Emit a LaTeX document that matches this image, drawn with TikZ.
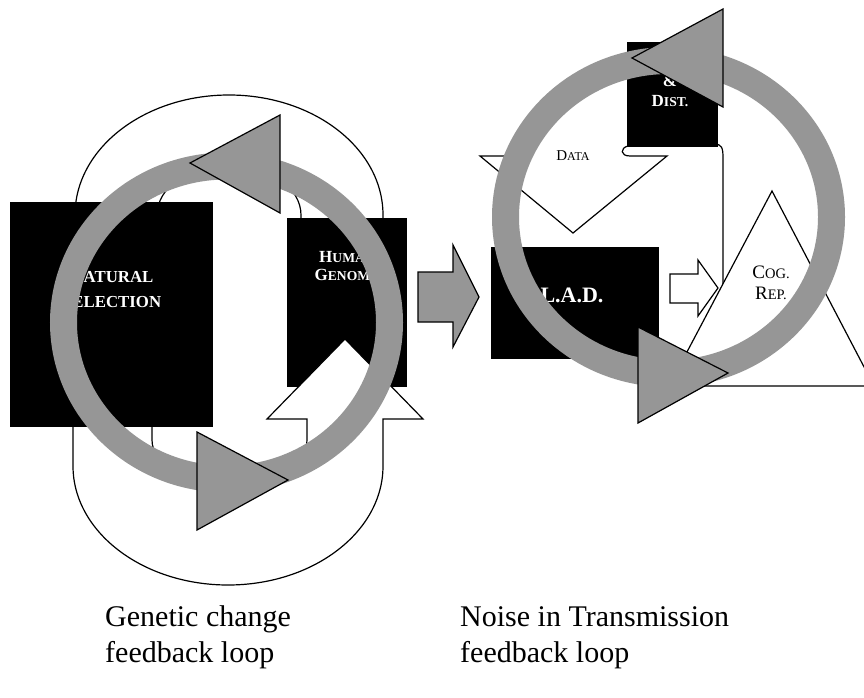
\documentclass[tikz,border=0pt]{standalone}
\usepackage{fontspec}
\setmainfont{Liberation Serif}
\definecolor{ringgray}{RGB}{150,150,150}
% small-caps look: first letter at full size, the rest as smaller capitals
\newcommand{\scword}[3]{#2{\fontsize{#1}{#1}\selectfont #3}}
\begin{document}
\begin{tikzpicture}[x=1pt,y=-1pt,
  outl/.style={draw=black,line width=1.2pt,line join=miter},
  whiteshape/.style={outl,fill=white},
  blackbox/.style={fill=black,draw=none,inner sep=0pt,anchor=north west},
  loopring/.style={draw=ringgray,line width=27pt},
  ringtip/.style={outl,fill=ringgray},
  graybolt/.style={outl,fill=ringgray},
  boxlabel/.style={text=white,align=center,inner sep=0pt},
  caption/.style={anchor=base west,inner sep=0pt,font=\fontsize{30}{36}\selectfont}]

\useasboundingbox (0,0) rectangle (864,698);
\fill[white] (0,0) rectangle (864,698);
\clip (0,0) rectangle (864,698);

% ---------------- genetic change loop ----------------
% upper U-shaped band (its ends run under the two boxes)
\draw[whiteshape] (75,300) -- (75,215)
  arc[start angle=180,end angle=360,x radius=154,y radius=120]
  -- (383,300) -- (301,300) -- (301,215)
  arc[start angle=0,end angle=-180,x radius=72,y radius=50]
  -- (157,300) -- cycle;

\node[blackbox,minimum width=120pt,minimum height=169pt] (hg) at (287,218) {};

% lower U-turn arrow, head pointing up into the genome box
\draw[whiteshape] (73,400) -- (73,466)
  arc[start angle=180,end angle=0,x radius=155,y radius=119]
  -- (383,419) -- (423,419) -- (345,339) -- (267,419) -- (307,419) -- (307,440)
  arc[start angle=0,end angle=180,x radius=77.5,y radius=45]
  -- (152,400) -- cycle;

\node[blackbox,minimum width=203pt,minimum height=225pt] (ns) at (10,202) {};

\node[boxlabel,font=\fontsize{21}{25}\selectfont\bfseries] (nstext) at (111,288)
  {\scword{16.8}{N}{ATURAL}\\\scword{16.8}{S}{ELECTION}};
\node[boxlabel,font=\fontsize{17}{18}\selectfont\bfseries] (hgtext) at (347,266)
  {\scword{13.6}{H}{UMAN}\\\scword{13.6}{G}{ENOME}};

\coordinate (lc) at (226.5,322.5);
\draw[loopring] (lc) ellipse [x radius=163,y radius=156.5];
\draw[ringtip] (190,163) -- (280,115) -- (280,213) -- cycle;
\draw[ringtip] (197,432) -- (288,480) -- (197,530) -- cycle;

% ---------------- link between the loops ----------------
\draw[graybolt] (418,272) -- (453,272) -- (453,245) -- (479,297)
  -- (453,347) -- (453,322) -- (418,322) -- cycle;

% ---------------- transmission loop ----------------
% data arrow, its shaft bending up under the distribution box
\draw[whiteshape] (524,140) -- (524,156) -- (480,156) -- (573,233) -- (667,156)
  -- (630,156) .. controls (620,156) and (620,148) .. (628,146) -- (628,140);
\draw[outl] (714,144) .. controls (722,144) and (723,148) .. (723,158) -- (723,300);

\node[blackbox,minimum width=91pt,minimum height=105pt] (dist) at (627,42) {};
\node[boxlabel,font=\fontsize{17}{20}\selectfont\bfseries] (disttext) at (670,91)
  {\&\\\scword{13.6}{D}{IST.}};
\node[inner sep=0pt,font=\fontsize{15}{15}\selectfont] (datatext) at (573,156)
  {\scword{12}{D}{ATA}};

\draw[whiteshape] (669,386) -- (772,191) -- (874,386) -- cycle;
\node[inner sep=0pt,align=center,font=\fontsize{19}{21}\selectfont] (cogtext) at (771,283)
  {\scword{14.5}{C}{OG.}\\\scword{14.5}{R}{EP.}};

\node[blackbox,minimum width=168pt,minimum height=112pt] (lad) at (491,247) {};
\node[boxlabel,font=\fontsize{22}{24}\selectfont\bfseries] (ladtext) at (572,295) {L.A.D.};

\draw[whiteshape] (670,274) -- (698,274) -- (698,260) -- (718,288)
  -- (698,316) -- (698,303) -- (670,303) -- cycle;

\coordinate (rc) at (668.5,217);
\draw[loopring] (rc) ellipse [x radius=163,y radius=156.5];
\draw[ringtip] (632,58) -- (723,9) -- (723,107) -- cycle;
\draw[ringtip] (638,327) -- (728,373) -- (638,423) -- cycle;

% ---------------- captions ----------------
\node[caption] (gc1) at (105,626) {Genetic change};
\node[caption] (gc2) at (105,662) {feedback loop};
\node[caption] (nt1) at (460,626) {Noise in Transmission};
\node[caption] (nt2) at (460,662) {feedback loop};
\end{tikzpicture}
\end{document}
